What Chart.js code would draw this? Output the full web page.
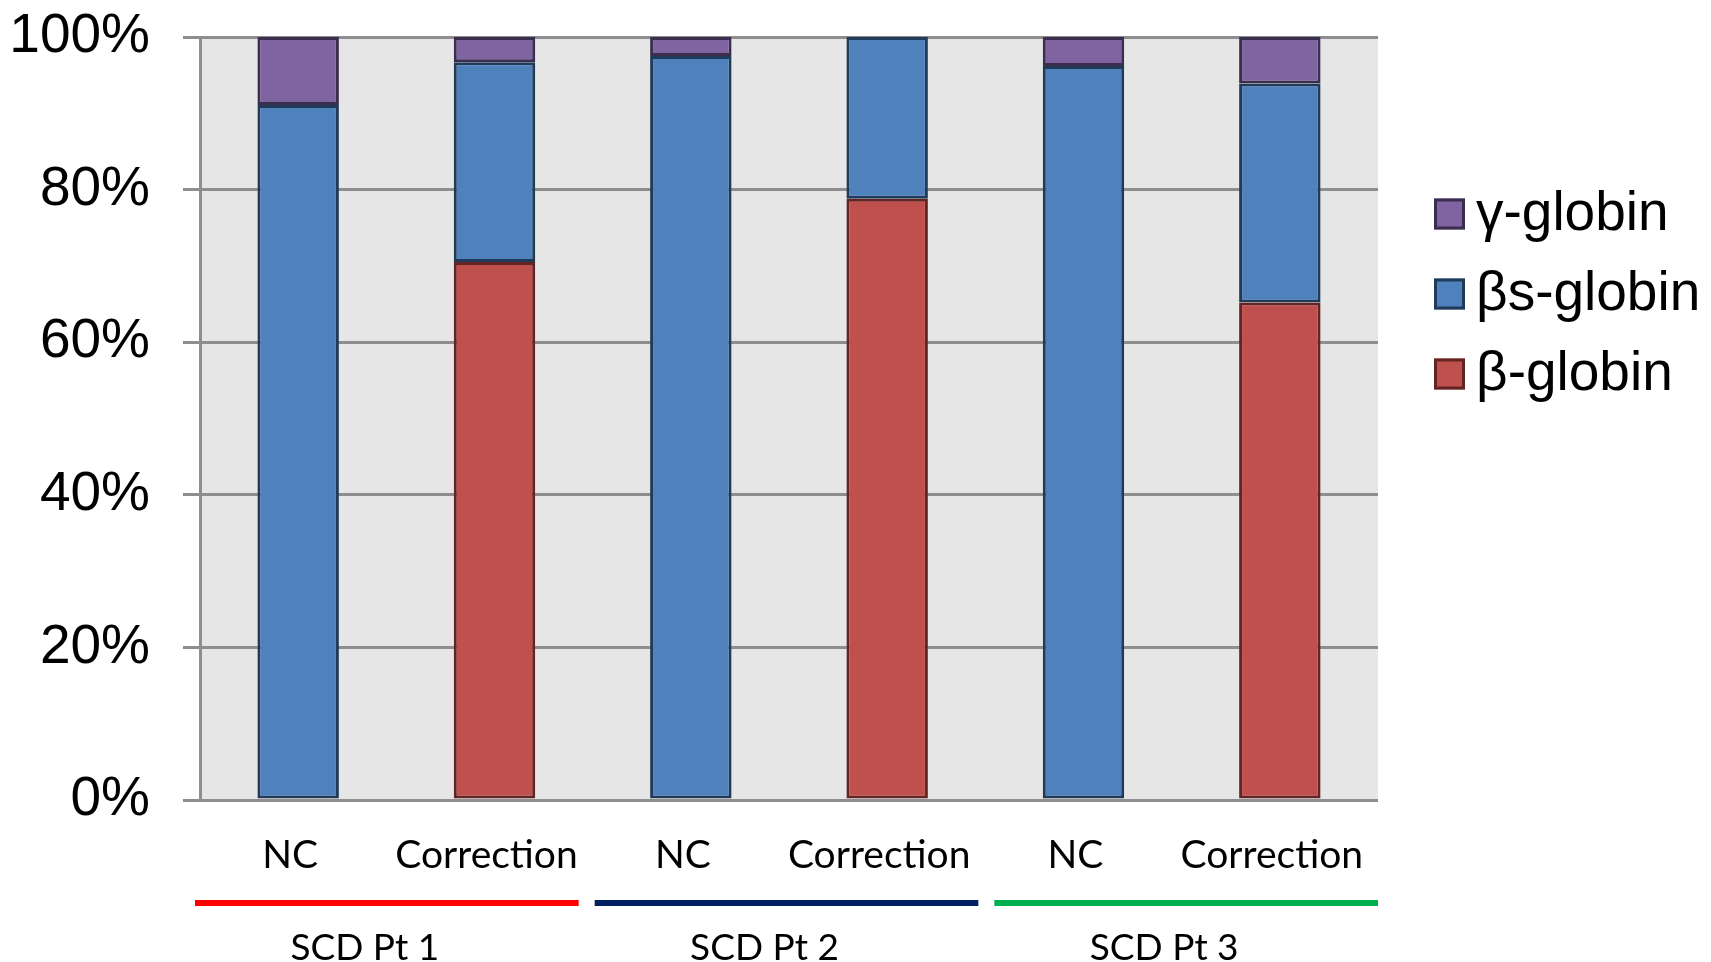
<!DOCTYPE html>
<html>
<head>
<meta charset="utf-8">
<title>Globin chain composition</title>
<script src="https://cdn.jsdelivr.net/npm/chart.js@4.4.1/dist/chart.umd.min.js"></script>
<style>
  html, body { margin: 0; padding: 0; background: #ffffff; }
  #wrap { width: 1711px; height: 962px; }
</style>
</head>
<body>
<div id="wrap"><canvas id="chart" width="1711" height="962"></canvas></div>
<script>
// Share of each globin chain (%), one entry per sample
const categories   = ['NC', 'Correction', 'NC', 'Correction', 'NC', 'Correction'];
const betaGlobin   = [0, 70.5, 0, 78.8, 0, 65.2];
const betaSGlobin  = [91.1, 26.2, 97.5, 21.2, 96.2, 28.7];
const gammaGlobin  = [8.9, 3.3, 2.5, 0, 3.8, 6.1];

// Patient groups under the category axis (two samples each)
const patientGroups = ['SCD Pt 1', 'SCD Pt 2', 'SCD Pt 3'];
const groupColors   = ['#ff0000', '#002060', '#00b050'];

// Value axis tick labels
const yTickValues = [0, 20, 40, 60, 80, 100];
const yTickLabels = ['0%', '20%', '40%', '60%', '80%', '100%'];

const ARIAL  = '"Liberation Sans", Arial, sans-serif';
const CALIBRI = 'Lato, "Open Sans", sans-serif';

// Grey plot area behind the grid
const plotBackground = {
  id: 'plotBackground',
  beforeDraw(chart) {
    const { ctx, chartArea: a } = chart;
    ctx.save();
    ctx.fillStyle = '#e6e6e6';
    ctx.fillRect(a.left, a.top, a.right - a.left, a.bottom - a.top);
    ctx.restore();
  }
};

// Coloured underline and name for each patient group
const groupAxis = {
  id: 'groupAxis',
  afterDraw(chart) {
    const { ctx } = chart;
    const x = chart.scales.x;
    const half = (x.getPixelForValue(1) - x.getPixelForValue(0)) / 2;
    ctx.save();
    patientGroups.forEach((name, g) => {
      const left = x.getPixelForValue(2 * g) - half;
      const right = x.getPixelForValue(2 * g + 1) + half;
      const lineLeft = left - 5 + 7 * g;
      const lineRight = lineLeft + (right - left) - 9;
      ctx.strokeStyle = groupColors[g];
      ctx.lineWidth = 6;
      ctx.beginPath();
      ctx.moveTo(lineLeft, 903);
      ctx.lineTo(lineRight, 903);
      ctx.stroke();
      ctx.fillStyle = '#000000';
      ctx.font = '37px ' + CALIBRI;
      ctx.textAlign = 'center';
      ctx.textBaseline = 'alphabetic';
      ctx.fillText(name, (lineLeft + lineRight) / 2 - 22, 960);
    });
    ctx.restore();
  }
};

// Legend on the right, top series first
const sideLegend = {
  id: 'sideLegend',
  afterDraw(chart) {
    const { ctx, chartArea: a } = chart;
    const sets = chart.data.datasets.slice().reverse();
    const boxX = a.right + 56;
    const box = 31;
    ctx.save();
    sets.forEach((ds, i) => {
      const cy = a.top + 177 + i * 80;
      ctx.fillStyle = ds.backgroundColor;
      ctx.fillRect(boxX, cy - box / 2, box, box);
      ctx.strokeStyle = ds.borderColor;
      ctx.lineWidth = 3;
      ctx.strokeRect(boxX + 1.5, cy - box / 2 + 1.5, box - 3, box - 3);
      ctx.fillStyle = '#000000';
      ctx.font = '55px ' + ARIAL;
      ctx.textAlign = 'left';
      ctx.textBaseline = 'alphabetic';
      ctx.fillText(ds.label, boxX + box + 11, cy + 16);
    });
    ctx.restore();
  }
};

const barStyle = {
  borderWidth: 3,
  borderSkipped: false,
  barPercentage: 0.415,
  categoryPercentage: 1.0
};

new Chart(document.getElementById('chart'), {
  type: 'bar',
  data: {
    labels: categories,
    datasets: [
      Object.assign({ label: 'β-globin',  data: betaGlobin,  backgroundColor: '#c0504d', borderColor: '#632523' }, barStyle),
      Object.assign({ label: 'βs-globin', data: betaSGlobin, backgroundColor: '#4f81bd', borderColor: '#203a5a' }, barStyle),
      Object.assign({ label: 'γ-globin',  data: gammaGlobin, backgroundColor: '#8064a2', borderColor: '#3b2d4e' }, barStyle)
    ]
  },
  options: {
    responsive: false,
    animation: false,
    devicePixelRatio: 1,
    layout: { padding: { top: 37, right: 333, bottom: 0, left: 0 } },
    plugins: {
      legend: { display: false },
      tooltip: { enabled: false }
    },
    scales: {
      x: {
        stacked: true,
        grid: { display: false, drawTicks: false },
        border: { display: false },
        ticks: {
          color: '#000000',
          font: { family: CALIBRI, size: 39 },
          padding: 32,
          labelOffset: -8,
          maxRotation: 0,
          autoSkip: false
        },
        afterFit(scale) { scale.height = 162; }
      },
      y: {
        stacked: true,
        min: 0,
        max: 100,
        afterBuildTicks(scale) { scale.ticks = yTickValues.map(v => ({ value: v })); },
        grid: { color: '#8e8e8e', lineWidth: 3, tickLength: 17, drawTicks: true },
        border: { display: true, color: '#8e8e8e', width: 3 },
        ticks: {
          color: '#000000',
          font: { family: ARIAL, size: 55 },
          padding: 33,
          callback(value) {
            const i = yTickValues.indexOf(value);
            return i >= 0 ? yTickLabels[i] : '';
          }
        },
        afterFit(scale) {
          scale.width = 200;
          scale.paddingTop = 0;
          scale.paddingBottom = 0;
        }
      }
    }
  },
  plugins: [plotBackground, groupAxis, sideLegend]
});
</script>
</body>
</html>
